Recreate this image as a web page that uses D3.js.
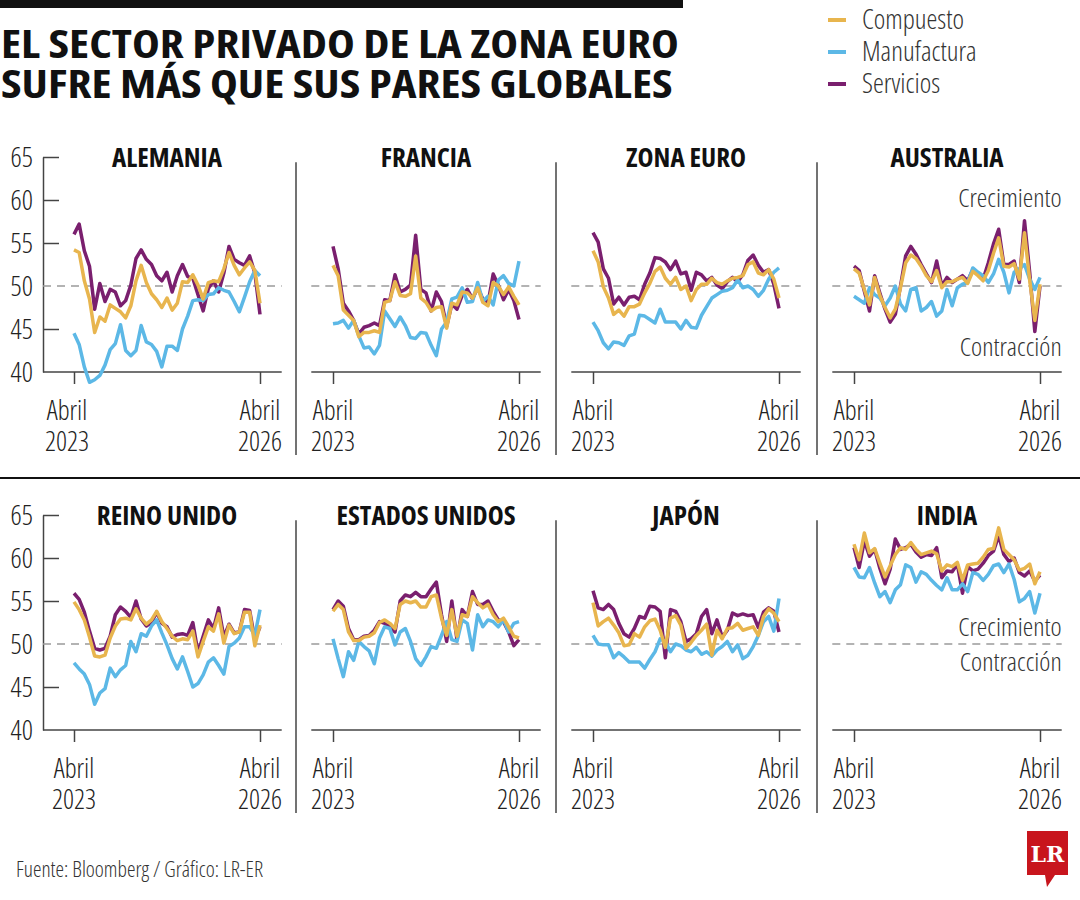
<!DOCTYPE html>
<html>
<head>
<meta charset="utf-8">
<script src="https://cdn.jsdelivr.net/npm/d3@7"></script>
<style>
  body { margin: 0; background: #fff; }
  svg text { fill: #1a1a1a; }
  .light { font-family: 'Open Sans', 'DejaVu Sans Condensed', sans-serif; font-weight: 300; font-stretch: 75%; }
  .heavy { font-family: 'Open Sans', 'DejaVu Sans Condensed', sans-serif; font-weight: 700; font-stretch: 75%; }
</style>
</head>
<body>
<svg id="chart" width="1080" height="900"></svg>
<script>
// months Apr 2023 .. Apr 2026 (index 0..36)
const tickMonths = [0, 36];
const tickLabels = [["Abril", "2023"], ["Abril", "2026"]];
const yTicks = [40, 45, 50, 55, 60, 65];
const seriesNames = ["Compuesto", "Manufactura", "Servicios"];
const seriesColors = ["#e8b54e", "#5cb8e6", "#7a1f6e"];
const panelNames = ["ALEMANIA", "FRANCIA", "ZONA EURO", "AUSTRALIA",
  "REINO UNIDO", "ESTADOS UNIDOS", "JAPÓN", "INDIA"];
const titleLines = ["EL SECTOR PRIVADO DE LA ZONA EURO", "SUFRE MÁS QUE SUS PARES GLOBALES"];

const alemaniaCompuesto = [54.2, 53.9, 50.6, 48.5, 44.6, 46.4, 45.9, 47.8, 47.4, 47.0, 46.3, 47.7, 50.6, 52.4, 50.4, 49.1, 48.4, 47.5, 48.6, 47.2, 48.0, 50.5, 50.4, 51.3, 50.1, 48.5, 50.4, 50.6, 50.5, 52.0, 53.9, 52.4, 51.3, 52.1, 52.8, 51.8, 48.0];
const alemaniaManufactura = [44.5, 43.2, 40.6, 38.8, 39.1, 39.6, 40.8, 42.6, 43.3, 45.5, 42.5, 41.9, 42.5, 45.4, 43.5, 43.2, 42.4, 40.6, 43.0, 43.0, 42.5, 45.0, 46.5, 48.3, 48.4, 48.3, 49.0, 49.1, 49.8, 49.5, 49.3, 48.2, 47.0, 48.7, 50.5, 51.8, 51.2];
const alemaniaServicios = [56.0, 57.2, 54.1, 52.3, 47.3, 50.3, 48.2, 49.6, 49.3, 47.7, 48.3, 50.1, 53.2, 54.2, 53.1, 52.5, 51.2, 50.6, 51.6, 49.3, 51.2, 52.5, 51.1, 50.9, 49.0, 47.1, 49.7, 50.6, 49.3, 51.5, 54.6, 53.1, 52.7, 52.4, 53.5, 51.5, 46.7];

const franciaCompuesto = [52.4, 51.2, 47.2, 46.6, 46.0, 44.1, 44.6, 44.6, 44.8, 44.6, 48.1, 48.3, 50.5, 48.9, 48.8, 49.1, 53.5, 48.6, 48.1, 47.1, 47.5, 47.6, 45.1, 48.0, 47.8, 49.3, 49.2, 48.6, 49.8, 48.1, 47.7, 50.4, 50.0, 49.0, 49.9, 48.8, 47.8];
const franciaManufactura = [45.6, 45.7, 46.0, 45.1, 46.0, 44.2, 42.8, 42.9, 42.1, 43.1, 47.1, 46.2, 45.3, 46.4, 45.4, 44.0, 43.9, 44.6, 44.5, 43.1, 41.9, 45.0, 45.8, 48.5, 48.7, 49.8, 48.1, 48.2, 50.4, 48.2, 48.8, 47.8, 50.7, 51.2, 50.3, 50.0, 52.9];
const franciaServicios = [54.6, 52.0, 48.0, 47.1, 46.0, 44.4, 45.2, 45.4, 45.7, 45.4, 48.4, 48.3, 51.3, 49.3, 49.6, 50.1, 55.9, 49.6, 49.2, 47.1, 49.3, 48.2, 45.3, 47.9, 47.3, 48.9, 49.6, 48.5, 49.8, 48.5, 48.0, 51.4, 50.1, 48.4, 49.6, 48.3, 46.1];

const zonaCompuesto = [54.1, 52.8, 49.9, 48.6, 46.7, 47.2, 46.5, 47.6, 47.6, 47.9, 49.2, 50.3, 51.7, 52.2, 50.9, 50.2, 51.0, 49.6, 50.0, 48.3, 49.6, 50.2, 50.2, 50.9, 50.4, 50.2, 50.6, 50.9, 51.0, 51.2, 52.5, 52.8, 51.5, 51.3, 51.9, 50.8, 48.6];
const zonaManufactura = [45.8, 44.8, 43.4, 42.7, 43.5, 43.4, 43.1, 44.2, 44.4, 46.6, 46.5, 46.1, 45.7, 47.3, 45.8, 45.8, 45.8, 45.0, 46.0, 45.2, 45.1, 46.6, 47.6, 48.6, 49.0, 49.4, 49.5, 49.8, 50.7, 49.8, 50.0, 49.6, 48.8, 49.5, 50.8, 51.6, 52.1];
const zonaServicios = [56.2, 55.1, 52.0, 50.9, 47.9, 48.7, 47.8, 48.7, 48.8, 48.4, 50.2, 51.5, 53.3, 53.2, 52.8, 51.9, 52.9, 51.4, 51.6, 49.5, 51.6, 51.3, 50.6, 51.0, 50.1, 49.7, 50.5, 51.0, 50.5, 51.3, 53.0, 53.6, 52.4, 51.6, 51.9, 50.2, 47.4];

const australiaCompuesto = [52.0, 51.5, 49.6, 47.8, 51.0, 48.9, 47.5, 46.3, 47.3, 49.8, 52.7, 53.6, 53.2, 52.3, 51.2, 50.5, 51.8, 49.8, 50.5, 50.5, 50.8, 51.0, 50.3, 51.7, 51.2, 50.6, 51.8, 53.8, 55.6, 52.3, 52.2, 52.6, 50.8, 56.2, 50.7, 46.0, 50.2];
const australiaManufactura = [48.8, 48.4, 48.0, 49.8, 49.0, 48.6, 47.7, 48.6, 50.0, 47.9, 47.1, 49.6, 49.8, 47.1, 47.5, 48.2, 46.5, 47.1, 49.6, 47.7, 49.8, 50.2, 50.4, 52.1, 51.6, 51.2, 50.4, 51.4, 53.1, 51.6, 49.2, 51.6, 52.0, 52.5, 50.8, 49.6, 51.0];
const australiaServicios = [52.3, 51.8, 49.4, 47.1, 51.2, 49.2, 47.3, 45.8, 46.7, 50.0, 53.5, 54.6, 53.7, 52.5, 51.4, 50.4, 52.9, 50.0, 51.0, 50.4, 50.8, 51.2, 50.6, 51.9, 51.4, 50.8, 52.7, 54.9, 56.6, 52.5, 52.5, 52.9, 50.4, 57.6, 51.6, 44.7, 50.0];

const reinoCompuesto = [54.9, 54.0, 52.8, 50.8, 48.6, 48.5, 48.7, 50.7, 52.1, 52.9, 53.0, 52.8, 54.1, 53.0, 52.3, 52.8, 53.8, 52.6, 51.8, 50.9, 50.4, 50.6, 50.5, 51.5, 48.5, 50.3, 52.0, 51.5, 53.5, 50.1, 52.2, 51.2, 51.4, 53.7, 53.7, 49.8, 52.2];
const reinoManufactura = [47.8, 47.1, 46.5, 45.3, 43.0, 44.3, 44.8, 47.2, 46.2, 47.0, 47.5, 50.3, 49.1, 51.2, 50.9, 52.1, 52.8, 51.3, 49.9, 48.3, 47.1, 48.5, 46.8, 45.0, 45.4, 46.4, 47.9, 48.4, 47.5, 46.5, 49.7, 50.1, 50.7, 52.0, 52.0, 51.0, 54.0];
const reinoServicios = [55.9, 55.2, 53.7, 51.5, 49.5, 49.3, 49.5, 50.9, 53.4, 54.3, 53.8, 53.1, 55.0, 52.9, 52.1, 52.5, 53.7, 52.4, 52.0, 50.8, 51.1, 51.2, 51.0, 52.5, 49.0, 50.9, 52.8, 51.8, 54.2, 50.8, 52.3, 51.3, 51.4, 54.0, 53.9, 50.5, 52.0];

const eeuuCompuesto = [53.8, 54.6, 54.0, 51.4, 50.4, 50.4, 50.8, 50.9, 51.3, 52.5, 52.8, 52.4, 51.8, 54.6, 55.0, 54.8, 55.0, 54.3, 54.3, 55.5, 55.7, 53.0, 51.0, 54.0, 50.9, 53.4, 53.2, 55.5, 54.8, 54.2, 54.6, 53.4, 52.6, 53.0, 52.0, 50.9, 50.7];
const eeuuManufactura = [50.6, 48.3, 46.2, 49.1, 48.1, 50.3, 49.7, 49.2, 47.7, 50.7, 52.0, 51.8, 49.9, 51.4, 51.8, 50.3, 48.3, 47.5, 48.5, 49.7, 49.5, 51.0, 52.6, 50.5, 50.3, 52.8, 52.4, 49.3, 53.4, 52.0, 52.8, 52.6, 52.0, 52.8, 51.4, 52.4, 52.6];
const eeuuServicios = [54.0, 55.0, 54.4, 51.8, 50.5, 50.5, 50.9, 51.0, 51.6, 52.6, 52.4, 52.0, 51.4, 55.0, 55.7, 55.5, 56.0, 55.5, 55.5, 56.4, 57.2, 53.4, 50.3, 55.0, 50.5, 54.0, 53.2, 56.1, 54.6, 54.6, 55.0, 53.8, 52.8, 52.6, 51.4, 49.8, 50.5];

const japonCompuesto = [54.8, 52.1, 52.6, 53.0, 52.2, 51.3, 49.8, 49.9, 51.2, 50.8, 52.0, 52.7, 52.9, 51.6, 49.6, 53.0, 53.3, 52.2, 49.5, 50.2, 51.0, 51.6, 52.3, 48.7, 51.6, 50.6, 51.8, 51.9, 52.4, 51.6, 51.8, 52.0, 51.0, 53.2, 54.1, 53.6, 52.6];
const japonManufactura = [51.0, 50.0, 49.9, 49.9, 48.4, 49.0, 48.5, 47.9, 47.9, 47.9, 47.2, 48.2, 49.1, 50.6, 50.3, 49.1, 50.0, 49.8, 49.3, 49.1, 49.6, 48.8, 49.1, 48.6, 49.3, 49.7, 50.3, 49.1, 49.9, 48.3, 48.7, 49.7, 51.0, 52.6, 53.2, 51.5, 55.3];
const japonServicios = [56.2, 54.2, 54.0, 54.6, 54.0, 52.4, 51.2, 50.8, 51.8, 53.2, 53.0, 54.4, 54.3, 53.8, 48.4, 54.0, 53.8, 52.6, 50.3, 50.6, 51.2, 53.2, 54.0, 51.2, 52.8, 50.8, 51.6, 53.6, 53.3, 53.5, 53.3, 53.4, 51.9, 53.7, 54.2, 53.8, 51.4];

const indiaCompuesto = [61.6, 59.8, 62.9, 60.6, 61.1, 59.4, 57.8, 59.1, 60.4, 61.2, 61.0, 61.8, 61.0, 60.4, 60.6, 60.8, 60.5, 58.5, 59.2, 59.0, 59.5, 57.4, 59.2, 59.3, 59.4, 60.1, 61.0, 61.1, 63.5, 61.0, 60.4, 59.8, 58.6, 58.8, 59.3, 57.0, 58.4];
const indiaManufactura = [58.9, 57.8, 57.7, 58.9, 57.1, 55.5, 56.1, 54.8, 56.3, 56.9, 59.2, 58.9, 57.2, 58.4, 58.1, 57.4, 56.8, 56.3, 57.7, 56.3, 56.3, 57.0, 56.1, 58.3, 58.1, 57.4, 58.1, 59.1, 59.3, 58.3, 59.3, 57.5, 54.9, 55.3, 56.1, 53.6, 55.9];
const indiaServicios = [61.2, 58.9, 62.0, 60.2, 61.0, 58.8, 57.0, 58.7, 62.2, 61.0, 61.2, 61.6, 60.7, 60.1, 60.4, 60.3, 61.2, 57.7, 58.5, 58.4, 59.3, 55.9, 59.0, 58.5, 58.7, 59.4, 60.3, 60.8, 62.6, 60.4, 59.6, 60.0, 58.3, 57.9, 58.5, 57.3, 58.0];

// panel table: [compuesto, manufactura, servicios]
const panelSeries = [
  [alemaniaCompuesto, alemaniaManufactura, alemaniaServicios],
  [franciaCompuesto, franciaManufactura, franciaServicios],
  [zonaCompuesto, zonaManufactura, zonaServicios],
  [australiaCompuesto, australiaManufactura, australiaServicios],
  [reinoCompuesto, reinoManufactura, reinoServicios],
  [eeuuCompuesto, eeuuManufactura, eeuuServicios],
  [japonCompuesto, japonManufactura, japonServicios],
  [indiaCompuesto, indiaManufactura, indiaServicios]
];

const svg = d3.select("#chart");

// measure a probe string so the text can be fitted to the original's proportions
function probe(cls, size, str) {
  const t = svg.append("text").attr("class", cls).attr("font-size", size).text(str);
  const w = t.node().getComputedTextLength();
  t.remove();
  return w;
}
// only squeeze when the installed face is wider than the original
const kLight = Math.min(1, 44 / probe("light", 27, "Abril"));
const kHeavy = Math.min(1, 111 / probe("heavy", 27, "ALEMANIA"));
const kTitle = 678 / probe("heavy", 39, titleLines[0]);

// one text element (one or more lines), horizontally scaled by k
function block(parent, cls, size, x, y, lines, anchor, lh, k) {
  const g = parent.append("g").attr("transform", `translate(${x},${y}) scale(${k},1)`);
  const t = g.append("text").attr("class", cls).attr("font-size", size)
    .attr("text-anchor", anchor || "start");
  lines.forEach((s, i) => t.append("tspan").attr("x", 0).attr("y", i * (lh || 0)).text(s));
  return t;
}

// header
svg.append("rect").attr("x", 0).attr("y", 0).attr("width", 683).attr("height", 8).attr("fill", "#111");
block(svg, "heavy", 39, 1, 58, titleLines, "start", 40, kTitle).style("fill", "#111");

// legend
const legend = svg.append("g").attr("transform", "translate(828,20)");
seriesNames.forEach((name, i) => {
  legend.append("line").attr("x1", 0).attr("x2", 18).attr("y1", i * 32).attr("y2", i * 32)
    .attr("stroke", seriesColors[i]).attr("stroke-width", 4);
});
block(legend, "light", 27.5, 34, 9, seriesNames, "start", 32, kLight).style("fill", "#333");

// row divider
svg.append("line").attr("x1", 0).attr("x2", 1080).attr("y1", 478).attr("y2", 478)
  .attr("stroke", "#111").attr("stroke-width", 2);

const colX = [74, 333, 593, 854];
const rowShift = [0, 358];
const span = 186;

panelSeries.forEach((series, k) => {
  const col = k % 4, row = Math.floor(k / 4);
  const g = svg.append("g").attr("transform", `translate(0,${rowShift[row]})`);
  const x = d3.scaleLinear().domain([0, 36]).range([colX[col], colX[col] + span]);
  const y = d3.scaleLinear().domain([40, 65]).range([372, 157]);
  const left = col === 0 ? 43 : x(-4.2);
  const right = x(40.2);

  // separator
  if (col > 0) {
    g.append("line").attr("x1", colX[col] - 37).attr("x2", colX[col] - 37)
      .attr("y1", y(64.4)).attr("y2", y(40) + 83)
      .attr("stroke", "#444").attr("stroke-width", 1.5);
  }

  // title
  block(g, "heavy", 27, x(18), 167, [panelNames[k]], "middle", 0, kHeavy).style("fill", "#111");

  // y axis (first column only)
  if (col === 0) {
    const ya = d3.axisLeft(y).tickValues(yTicks).tickSizeInner(-16).tickSizeOuter(0).tickFormat("");
    const yg = g.append("g").attr("transform", "translate(43,0)").call(ya);
    yg.select(".domain").attr("stroke", "#444").attr("stroke-width", 1.5);
    yg.selectAll(".tick line").attr("stroke", "#444").attr("stroke-width", 1.5)
      .filter(d => d === 40 || d === 50).remove();
    yTicks.forEach(v => block(g, "light", 27.5, 33, y(v) + 10, [String(v)], "end", 0, kLight).style("fill", "#222"));
  }

  // reference 50 line
  g.append("line").attr("x1", left).attr("x2", right).attr("y1", y(50)).attr("y2", y(50))
    .attr("stroke", "#9a9a9a").attr("stroke-width", 1.6).attr("stroke-dasharray", "8,6");

  // x axis
  g.append("line").attr("x1", left).attr("x2", right).attr("y1", y(40)).attr("y2", y(40))
    .attr("stroke", "#444").attr("stroke-width", 1.5);
  const xa = d3.axisBottom(x).tickValues(tickMonths).tickSize(12).tickFormat("");
  const xg = g.append("g").attr("transform", `translate(0,${y(40)})`).call(xa);
  xg.select(".domain").remove();
  xg.selectAll(".tick line").attr("stroke", "#444").attr("stroke-width", 1.5);
  tickMonths.forEach((m, j) => {
    const nudge = (k === 0 && j === 0) ? -7 : 0; // first label of the first panel sits a bit left
    block(g, "light", 27, x(m) + nudge, y(40) + 48, tickLabels[j], "middle", 31, kLight).style("fill", "#222");
  });

  // series lines: servicios, manufactura, compuesto (compuesto on top)
  const line = d3.line().x((d, i) => x(i)).y(d => y(d));
  [2, 1, 0].forEach(s => {
    g.append("path").datum(series[s]).attr("d", line)
      .attr("fill", "none").attr("stroke", seriesColors[s]).attr("stroke-width", 3.5)
      .attr("stroke-linejoin", "round");
  });

  // annotations
  if (k === 3) {
    block(g, "light", 26.5, x(40.2), 207, ["Crecimiento"], "end", 0, kLight).style("fill", "#333");
    block(g, "light", 26.5, x(40.2), 356, ["Contracción"], "end", 0, kLight).style("fill", "#333");
  }
  if (k === 7) {
    block(g, "light", 26.5, x(40.2), y(50) - 8, ["Crecimiento", "Contracción"], "end", 35, kLight).style("fill", "#333");
  }
});

// footer
block(svg, "light", 21.5, 16, 877, ["Fuente: Bloomberg / Gráfico: LR-ER"], "start", 0, kLight).style("fill", "#333");

// LR logo
const logo = svg.append("g").attr("transform", "translate(1027,831)");
logo.append("path").attr("d", "M0,0 H41 V44 H28 L20,56 L18,44 H0 Z").attr("fill", "#c8151d");
logo.append("text").attr("x", 20.5).attr("y", 31).attr("text-anchor", "middle")
  .attr("font-family", "'DejaVu Serif','Liberation Serif',serif").attr("font-weight", "bold")
  .attr("font-size", 22).style("fill", "#fff").text("LR");
</script>
</body>
</html>
